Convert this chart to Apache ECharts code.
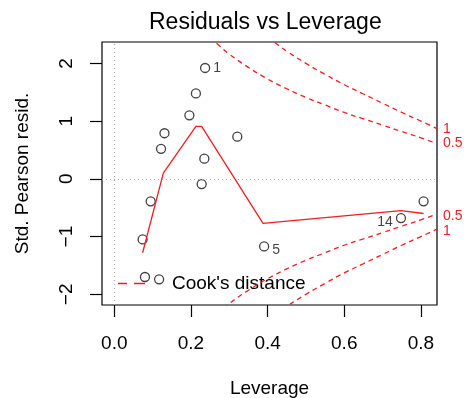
<!DOCTYPE html>
<html><head><meta charset="utf-8">
<script src="https://cdn.jsdelivr.net/npm/echarts@6/dist/echarts.min.js"></script>
<style>html,body{margin:0;padding:0;background:#fff}#c{width:464px;height:398px}</style>
</head><body><div id="c"></div>
<script>
// data
const leverage = [0.237, 0.213, 0.196, 0.131, 0.122, 0.235, 0.321, 0.228, 0.095, 0.074, 0.391, 0.080, 0.117, 0.748, 0.807];
const stdResid = [1.92, 1.48, 1.10, 0.79, 0.52, 0.35, 0.73, -0.09, -0.39, -1.05, -1.17, -1.70, -1.74, -0.68, -0.39];
const pointIds = ['1', '', '', '', '', '', '', '', '', '', '5', '', '', '14', ''];
const idPos = ['right', '', '', '', '', '', '', '', '', '', 'right', '', '', 'left', ''];

const smoothX = [0.074, 0.128, 0.213, 0.228, 0.388, 0.748, 0.807];
const smoothY = [-1.28, 0.10, 0.91, 0.91, -0.77, -0.55, -0.60];

const cookLevels = ['0.5', '1'];
const cookX05 = [0.25, 0.275, 0.30, 0.35, 0.40, 0.45, 0.50, 0.55, 0.60, 0.65, 0.70, 0.75, 0.80, 0.842];
const cookUpper05 = [2.45, 2.30, 2.16, 1.93, 1.73, 1.56, 1.41, 1.28, 1.15, 1.04, 0.93, 0.82, 0.71, 0.61];
const cookLower05 = [-2.45, -2.30, -2.16, -1.93, -1.73, -1.56, -1.41, -1.28, -1.15, -1.04, -0.93, -0.82, -0.71, -0.61];
const cookX1 = [0.40, 0.425, 0.45, 0.50, 0.55, 0.60, 0.65, 0.70, 0.75, 0.80, 0.842];
const cookUpper1 = [2.45, 2.33, 2.21, 2.00, 1.81, 1.63, 1.47, 1.31, 1.15, 1.00, 0.87];
const cookLower1 = [-2.45, -2.33, -2.21, -2.00, -1.81, -1.63, -1.47, -1.31, -1.15, -1.00, -0.87];

const xTicks = [0, 0.2, 0.4, 0.6, 0.8];
const yTicks = [-2, -1, 0, 1, 2];

const FONT = 'Liberation Sans, Arial, Helvetica, sans-serif';
const RED = '#f01e23';

const zip = (xs, ys) => xs.map((x, i) => [x, ys[i]]);

const scatterData = leverage.map((x, i) => {
  const d = { value: [x, stdResid[i]] };
  if (pointIds[i]) {
    d.label = {
      show: true, formatter: pointIds[i], position: idPos[i],
      distance: 3, fontSize: 14, color: '#111', fontFamily: FONT,
      offset: pointIds[i] === '1' ? [0, 0] : [0, 4]
    };
  }
  return d;
});

function cookSeries(xs, ys, lab, dy) {
  return {
    name: "Cook's distance", type: 'line', data: zip(xs, ys), smooth: true,
    symbol: 'none', clip: true, silent: true,
    lineStyle: { color: RED, width: 1.3, type: [5, 4] },
    itemStyle: { color: RED },
    endLabel: { show: true, formatter: lab, color: RED, fontSize: 14, fontFamily: FONT, distance: 6, offset: [0, dy] },
    z: 4
  };
}

const chart = echarts.init(document.getElementById('c'), null, { renderer: 'canvas' });
chart.setOption({
  animation: false,
  backgroundColor: '#fff',
  title: {
    text: 'Residuals vs Leverage', left: 149, top: 11, padding: 0,
    textStyle: { fontSize: 23, fontWeight: 'normal', color: '#000', fontFamily: FONT }
  },
  grid: {
    left: 102, top: 42, right: 27, bottom: 93, containLabel: false, outerBoundsMode: 'none',
    show: true, borderColor: '#000', borderWidth: 1.2, backgroundColor: 'transparent'
  },
  legend: {
    data: [{ name: "Cook's distance", icon: 'path://M0,0H9V1.4H0Z M16,0H27V1.4H16Z' }],
    left: 118, top: 274, padding: 0,
    itemWidth: 27, itemHeight: 1.4, selectedMode: false,
    textStyle: { fontSize: 19, color: '#000', fontFamily: FONT, padding: [0, 0, 0, 22] }
  },
  xAxis: {
    type: 'value', min: -0.032, max: 0.842,
    splitLine: { show: false }, axisLine: { show: false, onZero: false },
    axisTick: { show: true, customValues: xTicks, length: 12, lineStyle: { color: '#000', width: 1.2 } },
    axisLabel: { customValues: xTicks, formatter: v => v.toFixed(1), fontSize: 19, color: '#000', fontFamily: FONT, margin: 29 },
    name: 'Leverage', nameLocation: 'middle', nameGap: 74,
    nameTextStyle: { fontSize: 19, color: '#000', fontFamily: FONT }
  },
  yAxis: {
    type: 'value', min: -2.185, max: 2.37,
    splitLine: { show: false }, axisLine: { show: false, onZero: false },
    axisTick: { show: true, customValues: yTicks, length: 12, lineStyle: { color: '#000', width: 1.2 } },
    axisLabel: { customValues: yTicks, rotate: 90, formatter: v => String(v).replace('-', '\u2212'), fontSize: 19, color: '#000', fontFamily: FONT, margin: 26 },
    name: 'Std. Pearson resid.', nameLocation: 'middle', nameGap: 70, nameRotate: 90,
    nameTextStyle: { fontSize: 19, color: '#000', fontFamily: FONT }
  },
  series: [
    {
      type: 'scatter', data: scatterData, symbol: 'circle', symbolSize: 9,
      itemStyle: { color: 'rgba(0,0,0,0)', borderColor: '#111', borderWidth: 1.3 },
      z: 3, silent: true,
      markLine: {
        silent: true, symbol: ['none', 'none'], label: { show: false },
        lineStyle: { type: [1, 3], color: '#aaa', width: 1.2 },
        data: [{ xAxis: 0 }, { yAxis: 0 }]
      }
    },
    {
      type: 'line', data: zip(smoothX, smoothY), symbol: 'none', silent: true,
      lineStyle: { color: RED, width: 1.3 }, z: 4
    },
    cookSeries(cookX05, cookUpper05, cookLevels[0], 0),
    cookSeries(cookX1, cookUpper1, cookLevels[1], 1),
    cookSeries(cookX05, cookLower05, cookLevels[0], 2),
    cookSeries(cookX1, cookLower1, cookLevels[1], 2)
  ]
});
</script></body></html>
